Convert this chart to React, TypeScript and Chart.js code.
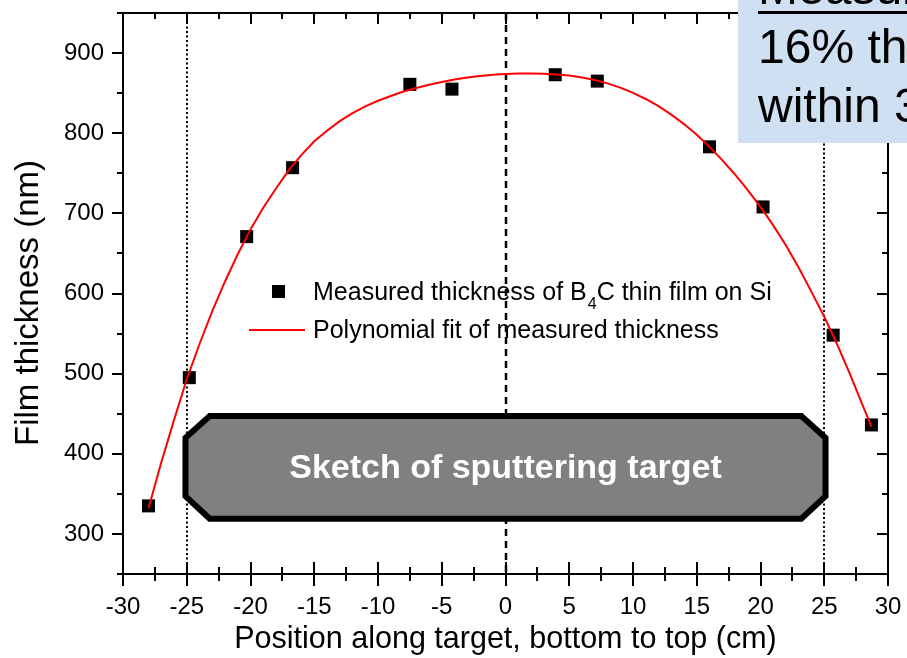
import React, { useEffect, useRef } from "react";
import { Chart, registerables } from "chart.js";

Chart.register(...registerables);

// ---- data ----
const measuredX = [-28, -24.8, -20.3, -16.7, -7.5, -4.2, 3.9, 7.2, 16.0, 20.2, 25.7, 28.7];
const measuredY = [335, 495, 671, 757, 861, 855, 873, 865, 783, 708, 548, 436];

const fitX = [
  -28, -27, -26, -25, -24, -23, -22, -21, -20, -19, -18, -17, -16, -15, -14, -13, -12, -11, -10, -9,
  -8, -7, -6, -5, -4, -3, -2, -1, 0, 1, 2, 3, 4, 5, 6, 7, 8, 9, 10, 11, 12, 13, 14, 15, 16, 17, 18,
  19, 20, 21, 22, 23, 24, 25, 26, 27, 28, 28.7,
];
const fitY = [
  332, 389, 442, 493, 537, 578, 615, 649, 680, 707, 731, 754, 773, 790, 803, 815, 825, 833.5, 840.5,
  846.5, 852, 856.5, 860.5, 864, 867, 869.5, 871.5, 873, 874, 874.5, 874.5, 874.2, 873.4, 871.9, 869.6,
  866.4, 862.2, 856.9, 850.4, 842.7, 833.7, 823.2, 811.4, 798, 783, 766.5, 748.5, 729, 708, 685, 660,
  632, 602, 571, 537, 500, 461, 434,
];

const xTickValues = [-30, -25, -20, -15, -10, -5, 0, 5, 10, 15, 20, 25, 30];
const yTickValues = [300, 400, 500, 600, 700, 800, 900];
const X_MIN = -30;
const X_MAX = 30;
const Y_MIN = 250;
const Y_MAX = 950;

const dottedLinesX = [-25, 25];
const dashedLinesX = [0];

// outline of the sputtering-target sketch, in data units
const targetOuterX = 25.1;
const targetInnerX = 23.2;
const targetTopY = 447;
const targetShoulderTopY = 420;
const targetShoulderBottomY = 347;
const targetBottomY = 319;

const xTitle = "Position along target, bottom to top (cm)";
const yTitle = "Film thickness (nm)";
const legendMeasured = ["Measured thickness of B", "4", "C thin film on Si"];
const legendFit = "Polynomial fit of measured thickness";
const targetLabel = "Sketch of sputtering target";
const noteLines = ["Measured thickness", "16% thickness variation", "within 30 cm"];

const FONT = "'Liberation Sans', Arial, Helvetica, sans-serif";

const customPlugin = {
  id: "customDraw",
  beforeDatasetsDraw(chart: any) {
    const { ctx, chartArea: a, scales } = chart;
    const x = scales.x;
    const y = scales.y;
    ctx.save();
    ctx.strokeStyle = "#000";
    ctx.lineWidth = 2;
    ctx.setLineDash([2, 2.5]);
    for (const v of dottedLinesX) {
      const px = Math.round(x.getPixelForValue(v));
      ctx.beginPath();
      ctx.moveTo(px, a.top);
      ctx.lineTo(px, a.bottom);
      ctx.stroke();
    }
    ctx.lineWidth = 2.5;
    ctx.setLineDash([7, 5]);
    for (const v of dashedLinesX) {
      const px = Math.round(x.getPixelForValue(v));
      ctx.beginPath();
      ctx.moveTo(px, a.top);
      ctx.lineTo(px, a.bottom);
      ctx.stroke();
    }
    ctx.setLineDash([]);
    const pts = [
      [-targetInnerX, targetTopY],
      [targetInnerX, targetTopY],
      [targetOuterX, targetShoulderTopY],
      [targetOuterX, targetShoulderBottomY],
      [targetInnerX, targetBottomY],
      [-targetInnerX, targetBottomY],
      [-targetOuterX, targetShoulderBottomY],
      [-targetOuterX, targetShoulderTopY],
    ];
    ctx.beginPath();
    pts.forEach(([vx, vy], i) => {
      const px = x.getPixelForValue(vx);
      const py = y.getPixelForValue(vy);
      if (i === 0) ctx.moveTo(px, py);
      else ctx.lineTo(px, py);
    });
    ctx.closePath();
    ctx.fillStyle = "#808080";
    ctx.fill();
    ctx.lineWidth = 6;
    ctx.lineJoin = "miter";
    ctx.stroke();
    const cx = (x.getPixelForValue(-targetOuterX) + x.getPixelForValue(targetOuterX)) / 2;
    const cy = (y.getPixelForValue(targetTopY) + y.getPixelForValue(targetBottomY)) / 2;
    ctx.fillStyle = "#ffffff";
    ctx.font = `bold 34px ${FONT}`;
    ctx.textAlign = "center";
    ctx.textBaseline = "middle";
    ctx.fillText(targetLabel, cx, cy + 1);
    ctx.restore();
  },
  afterDraw(chart: any) {
    const { ctx, chartArea: a, scales } = chart;
    const x = scales.x;
    const y = scales.y;
    ctx.save();
    // y-axis title
    ctx.save();
    ctx.translate(29, 303);
    ctx.rotate(-Math.PI / 2);
    ctx.fillStyle = "#000";
    ctx.font = `33px ${FONT}`;
    ctx.textAlign = "center";
    ctx.textBaseline = "middle";
    ctx.fillText(yTitle, 0, 0);
    ctx.restore();

    // legend
    ctx.fillStyle = "#000";
    ctx.fillRect(272, 285, 13, 13);
    ctx.strokeStyle = "#ff0000";
    ctx.lineWidth = 2;
    ctx.beginPath();
    ctx.moveTo(249, 330);
    ctx.lineTo(305, 330);
    ctx.stroke();
    ctx.fillStyle = "#000";
    ctx.textAlign = "left";
    ctx.textBaseline = "alphabetic";
    ctx.font = `25px ${FONT}`;
    let tx = 313;
    ctx.fillText(legendMeasured[0], tx, 300);
    tx += ctx.measureText(legendMeasured[0]).width;
    ctx.font = `16px ${FONT}`;
    ctx.fillText(legendMeasured[1], tx + 1, 309);
    tx += ctx.measureText(legendMeasured[1]).width + 1;
    ctx.font = `25px ${FONT}`;
    ctx.fillText(legendMeasured[2], tx, 300);
    ctx.fillText(legendFit, 313, 338);

    // frame
    ctx.strokeStyle = "#000";
    ctx.lineWidth = 2;
    ctx.beginPath();
    ctx.rect(a.left, a.top, a.right - a.left, a.bottom - a.top);
    ctx.stroke();
    const line = (x1: number, y1: number, x2: number, y2: number) => {
      ctx.beginPath();
      ctx.moveTo(x1, y1);
      ctx.lineTo(x2, y2);
      ctx.stroke();
    };
    for (let i = 0; i < xTickValues.length; i++) {
      const v = xTickValues[i];
      const px = Math.round(x.getPixelForValue(v));
      line(px, a.bottom - 12, px, a.bottom + 12);
      line(px, a.top, px, a.top + 11);
      if (i < xTickValues.length - 1) {
        const m = (v + xTickValues[i + 1]) / 2;
        const pm = Math.round(x.getPixelForValue(m));
        line(pm, a.bottom - 7, pm, a.bottom + 7);
        line(pm, a.top, pm, a.top + 6);
      }
    }
    for (const v of yTickValues) {
      const py = Math.round(y.getPixelForValue(v));
      line(a.left - 11, py, a.left, py);
      line(a.right - 11, py, a.right, py);
    }
    for (let v = Y_MIN; v <= Y_MAX; v += 100) {
      const py = Math.round(y.getPixelForValue(v));
      line(a.left - 6, py, a.left, py);
      line(a.right - 6, py, a.right, py);
    }

    // note box at top right
    ctx.fillStyle = "#cfe0f2";
    ctx.fillRect(738, 0, 200, 143);
    ctx.fillStyle = "#000";
    ctx.font = `48px ${FONT}`;
    ctx.textAlign = "left";
    ctx.textBaseline = "alphabetic";
    ctx.fillText(noteLines[0], 758, 4);
    ctx.fillRect(758, 11, 200, 3);
    ctx.fillText(noteLines[1], 758, 63);
    ctx.fillText(noteLines[2], 758, 122);
    ctx.restore();
  },
};

const zeroPadding = (s: any) => {
  s.paddingTop = 0;
  s.paddingBottom = 0;
  s.paddingLeft = 0;
  s.paddingRight = 0;
};

export default function App() {
  const canvasRef = useRef<HTMLCanvasElement | null>(null);

  useEffect(() => {
    document.body.style.margin = "0";
    const canvas = canvasRef.current;
    if (!canvas) return;
    const measured = measuredX.map((v, i) => ({ x: v, y: measuredY[i] }));
    const fit = fitX.map((v, i) => ({ x: v, y: fitY[i] }));
    const chart = new Chart(canvas, {
      type: "scatter",
      data: {
        datasets: [
          {
            label: legendFit,
            data: fit,
            showLine: true,
            borderColor: "#ff0000",
            borderWidth: 2,
            pointRadius: 0,
            pointHoverRadius: 0,
            tension: 0,
            fill: false,
          },
          {
            label: "measured",
            data: measured,
            pointStyle: "rect",
            pointRadius: 9.2,
            pointHoverRadius: 9.2,
            backgroundColor: "#000",
            borderColor: "#000",
            borderWidth: 0,
            showLine: false,
          },
        ],
      },
      options: {
        animation: false,
        responsive: false,
        devicePixelRatio: 1,
        layout: { padding: { top: 13, right: 19, left: 0, bottom: 0 } },
        plugins: {
          legend: { display: false },
          tooltip: { enabled: false },
        },
        events: [],
        scales: {
          x: {
            type: "linear",
            min: X_MIN,
            max: X_MAX,
            afterBuildTicks: (s: any) => {
              s.ticks = xTickValues.map((v) => ({ value: v }));
            },
            afterFit: (s: any) => {
              s.height = 84;
              zeroPadding(s);
            },
            grid: { display: false, drawTicks: false },
            border: { display: false },
            ticks: {
              color: "#000",
              font: { family: FONT, size: 24 },
              padding: 19,
              maxRotation: 0,
              autoSkip: false,
            },
            title: {
              display: true,
              text: xTitle,
              color: "#000",
              font: { family: FONT, size: 30.5 },
              padding: { top: 0, bottom: 0 },
            },
          },
          y: {
            type: "linear",
            min: Y_MIN,
            max: Y_MAX,
            afterBuildTicks: (s: any) => {
              s.ticks = yTickValues.map((v) => ({ value: v }));
            },
            afterFit: (s: any) => {
              s.width = 123;
              zeroPadding(s);
            },
            grid: { display: false, drawTicks: false },
            border: { display: false },
            ticks: {
              color: "#000",
              font: { family: FONT, size: 24 },
              padding: 19,
              autoSkip: false,
            },
            title: { display: false },
          },
        },
      },
      plugins: [customPlugin],
    });
    return () => chart.destroy();
  }, []);

  return (
    <canvas
      ref={canvasRef}
      width={907}
      height={658}
      style={{ display: "block", width: 907, height: 658 }}
    />
  );
}
